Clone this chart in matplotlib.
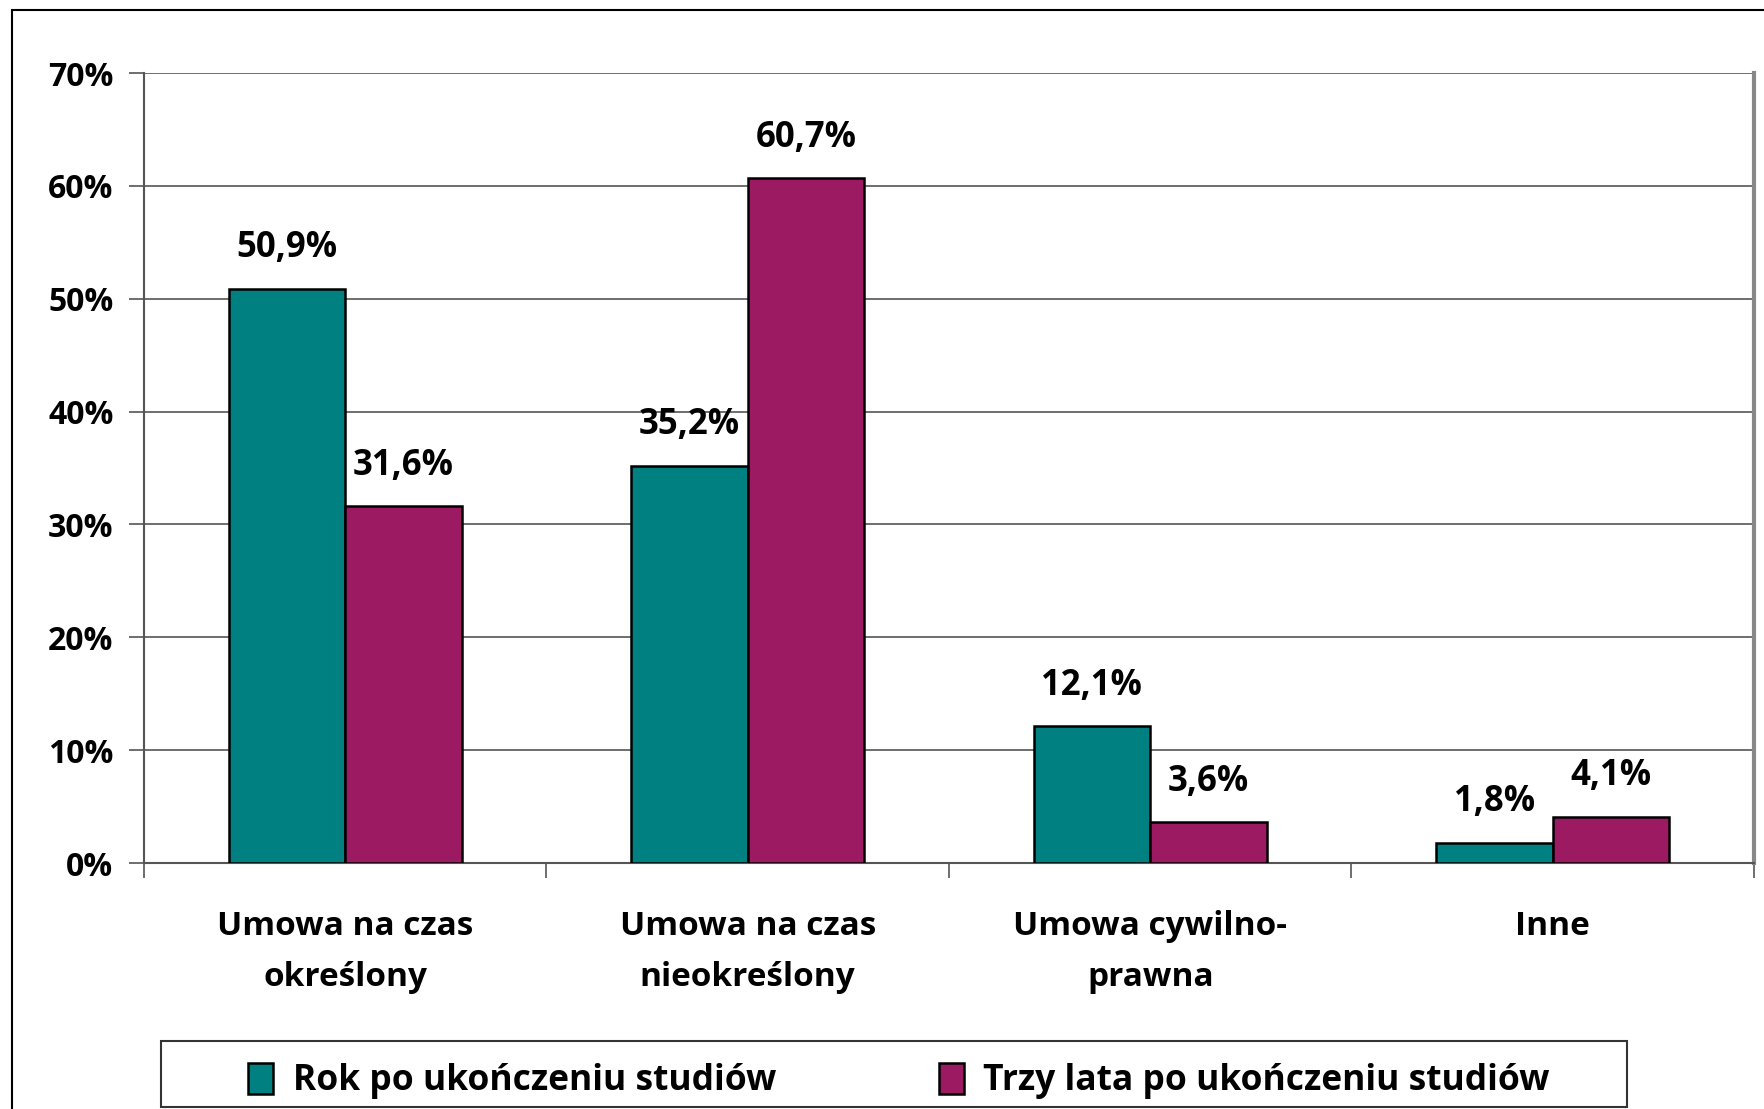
#bar chart: type of employment contract, one year vs three years after graduation
import matplotlib.pyplot as plt
import matplotlib.patches as patches
import numpy as np

plt.rcParams['font.family'] = ['Open Sans', 'DejaVu Sans']
plt.rcParams['font.weight'] = 'bold'

categories = ['Umowa na czas\nokreślony', 'Umowa na czas\nnieokreślony',
              'Umowa cywilno-\nprawna', 'Inne']
series_names = ['Rok po ukończeniu studiów', 'Trzy lata po ukończeniu studiów']
year_one = [50.9, 35.2, 12.1, 1.8]
year_three = [31.6, 60.7, 3.6, 4.1]
y_ticks = [0, 10, 20, 30, 40, 50, 60, 70]

colors = ['#008080', '#9B1A62']

W, H = 1765, 1109
fig = plt.figure(figsize=(W / 100, H / 100), dpi=100)

#outer chart frame (right and bottom run off the picture)
fig.patches.append(patches.Rectangle((12 / W, -0.05), 1.2, 1 - 10 / H + 0.05,
                                     transform=fig.transFigure, fill=False,
                                     edgecolor='black', linewidth=1.5))

#legend frame, drawn separately so it can be wider than its content
fig.patches.append(patches.Rectangle((161 / W, 1 - 1107 / H), (1627 - 161) / W,
                                     (1107 - 1041) / H, transform=fig.transFigure,
                                     fill=False, edgecolor='#333333', linewidth=1.5))

ax = fig.add_axes([144 / W, 1 - 863 / H, (1754 - 144) / W, (863 - 73) / H])

xPos = np.arange(len(categories))
width = 0.29
bars1 = ax.bar(xPos - width / 2, year_one, width, color=colors[0],
               edgecolor='black', linewidth=1.8, label=series_names[0], zorder=3)
bars2 = ax.bar(xPos + width / 2, year_three, width, color=colors[1],
               edgecolor='black', linewidth=1.8, label=series_names[1], zorder=3)

# value labels above bars
for bars in (bars1, bars2):
    for bar in bars:
        h = bar.get_height()
        ax.annotate(('%.1f%%' % h).replace('.', ','),
                    (bar.get_x() + bar.get_width() / 2, h),
                    xytext=(0, 29), textcoords='offset points',
                    ha='center', va='center', fontsize=25, fontweight='bold')

ax.set_xlim(-0.5, len(categories) - 0.5)
ax.set_ylim(0, 70)
ax.set_yticks(y_ticks)
ax.set_yticklabels(['%d%%' % t for t in y_ticks], fontsize=23, fontweight='bold')
ax.yaxis.grid(True, color='#555555', linewidth=1.2, zorder=0)
ax.tick_params(axis='y', length=11, width=1.2, pad=11, color='#555555')

# category labels centred, tick marks between groups
ax.set_xticks(np.arange(-0.5, len(categories)))
ax.set_xticklabels([])
ax.set_xticks(xPos, minor=True)
ax.set_xticklabels(categories, minor=True, fontsize=24, fontweight='bold',
                   linespacing=1.7)
ax.tick_params(axis='x', which='major', length=11, width=1.2, color='#555555')
ax.tick_params(axis='x', which='minor', length=0, pad=34)

ax.spines['top'].set_visible(False)
ax.spines['left'].set_color('#555555')
ax.spines['left'].set_linewidth(1.5)
ax.spines['bottom'].set_color('#555555')
ax.spines['bottom'].set_linewidth(1.5)
ax.spines['right'].set_color('#888888')
ax.spines['right'].set_linewidth(3)

leg = fig.legend(handles=[bars1, bars2], labels=series_names, loc='center',
                 ncol=2, bbox_to_anchor=(899 / W, 1 - 1081 / H),
                 frameon=False, handlelength=0.7,
                 handleheight=1.0, columnspacing=4.6, borderpad=0.45,
                 handletextpad=0.55, prop={'weight': 'bold', 'size': 25.5})

plt.savefig('out.png', dpi=100)
